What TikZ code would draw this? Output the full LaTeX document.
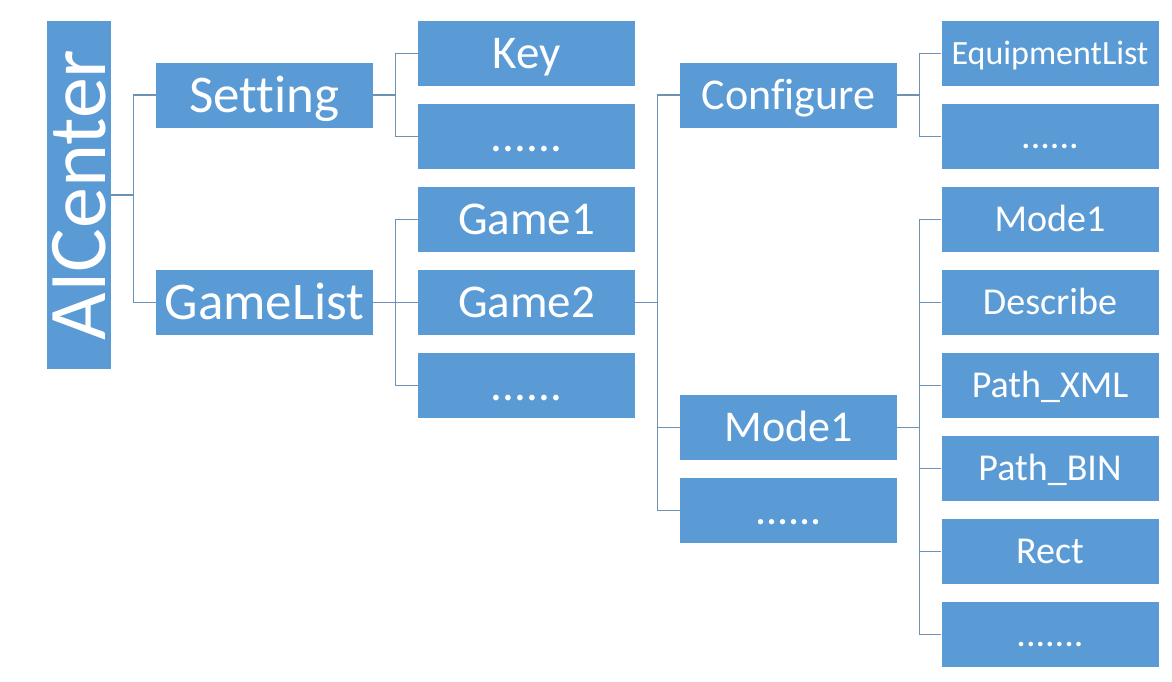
\documentclass[tikz,border=0pt]{standalone}
\usepackage{fontspec}
\setmainfont{Carlito}[Ligatures=NoCommon]
\definecolor{blau}{RGB}{91,155,213}
\definecolor{linienfarbe}{RGB}{110,145,180}

\begin{document}
\begin{tikzpicture}[x=1pt,y=-1pt]
	\tikzset{kasten/.style={rectangle, fill=blau, text=white, inner sep=0, minimum width=217, minimum height=65, font=\fontsize{#1}{#1}\selectfont, text height=0.644*#1, text depth=0}}
	\tikzset{linie/.style={line width=1.3, draw=linienfarbe}}
	\useasboundingbox (0,0) rectangle (1172,681);

	\node[kasten=82, rotate=90, minimum width=348, minimum height=64] at (79, 195) (a) {AICenter};
	\node[kasten=53] at (264.5, 95) (b) {Setting};
	\node[kasten=53] at (264.5, 302.5) (c) {GameList};
	\node[kasten=47] at (526.5, 53.5) (d) {Key};
	\node[kasten=47] at (526.5, 136.5) (e) {......};
	\node[kasten=47] at (526.5, 219.5) (f) {Game1};
	\node[kasten=47] at (526.5, 302.5) (g) {Game2};
	\node[kasten=47] at (526.5, 385.5) (h) {......};
	\node[kasten=44] at (788.5, 95) (i) {Configure};
	\node[kasten=44] at (788.5, 427.5) (j) {Mode1};
	\node[kasten=44] at (788.5, 510.5) (k) {......};
	\node[kasten=34] at (1050, 53.5) (l) {EquipmentList};
	\node[kasten=38] at (1050, 136.5) (m) {......};
	\node[kasten=38] at (1050, 219.5) (n) {Mode1};
	\node[kasten=38] at (1050, 302.5) (o) {Describe};
	\node[kasten=38] at (1050, 385.5) (p) {Path\_XML};
	\node[kasten=38] at (1050, 468.5) (q) {Path\_BIN};
	\node[kasten=38] at (1050, 551.5) (r) {Rect};
	\node[kasten=38] at (1050, 634.5) (s) {.......};

	\draw [linie] (a.south) -- ++(22.5,0) |- (b.west);
	\draw [linie] (a.south) -- ++(22.5,0) |- (c.west);
	\draw [linie] (b.east) -- ++(22.5,0) |- (d.west);
	\draw [linie] (b.east) -- ++(22.5,0) |- (e.west);
	\draw [linie] (c.east) -- ++(22.5,0) |- (f.west);
	\draw [linie] (c.east) -- ++(22.5,0) |- (g.west);
	\draw [linie] (c.east) -- ++(22.5,0) |- (h.west);
	\draw [linie] (g.east) -- ++(22.5,0) |- (i.west);
	\draw [linie] (g.east) -- ++(22.5,0) |- (j.west);
	\draw [linie] (g.east) -- ++(22.5,0) |- (k.west);
	\draw [linie] (i.east) -- ++(22.5,0) |- (l.west);
	\draw [linie] (i.east) -- ++(22.5,0) |- (m.west);
	\draw [linie] (j.east) -- ++(22.5,0) |- (n.west);
	\draw [linie] (j.east) -- ++(22.5,0) |- (o.west);
	\draw [linie] (j.east) -- ++(22.5,0) |- (p.west);
	\draw [linie] (j.east) -- ++(22.5,0) |- (q.west);
	\draw [linie] (j.east) -- ++(22.5,0) |- (r.west);
	\draw [linie] (j.east) -- ++(22.5,0) |- (s.west);
\end{tikzpicture}
\end{document}
